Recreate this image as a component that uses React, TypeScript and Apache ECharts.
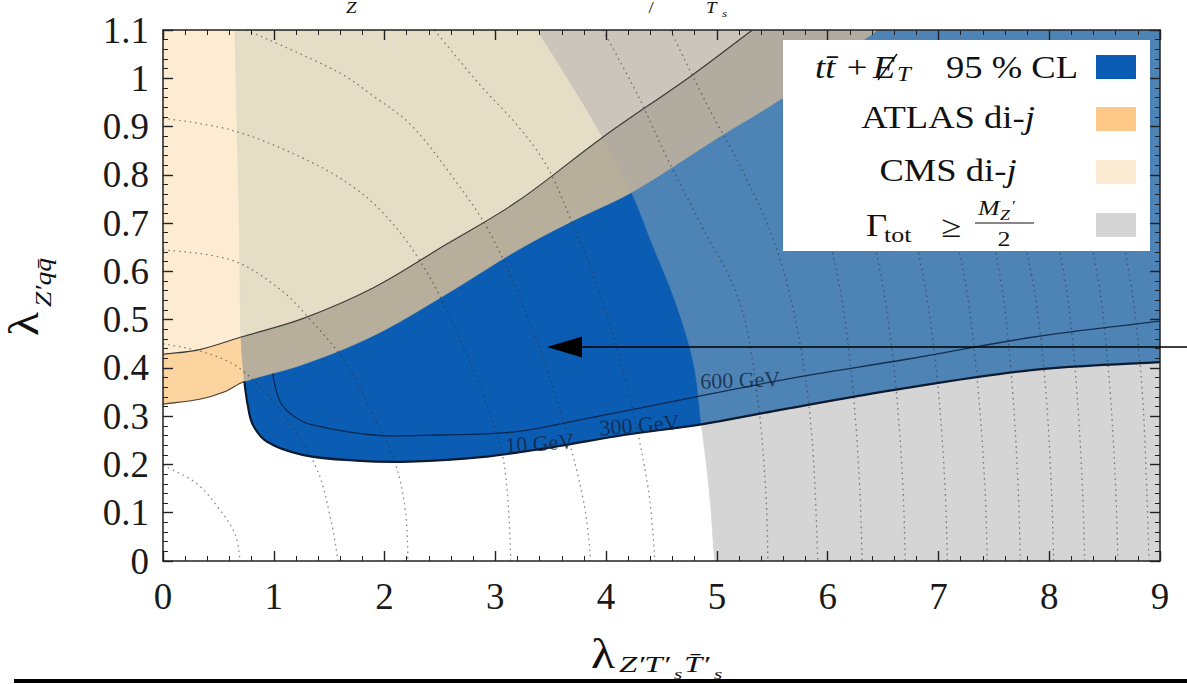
import React, { useEffect, useRef } from "react";
import * as echarts from "echarts";

// ---------- axes ----------
const X_MIN = 0;
const X_MAX = 9;
const X_STEP = 1;
const Y_MIN = 0;
const Y_MAX = 1.1;
const Y_STEP = 0.1;

// ---------- region boundaries (data coordinates) ----------
// lower edge of the di-jet band (ATLAS)
const ATLAS_EDGE = [
  [0, 0.325], [0.33, 0.335], [0.55, 0.35], [0.735, 0.372], [1.26, 0.407], [1.9, 0.467],
  [2.55, 0.552], [3.2, 0.644], [3.7, 0.705], [4.23, 0.764], [5.03, 0.88], [5.59, 0.959], [6.45, 1.1],
];
// upper edge of the di-jet band (CMS)
const CMS_EDGE = [
  [0, 0.428], [0.33, 0.438], [0.705, 0.464], [1.26, 0.502], [1.9, 0.566], [2.55, 0.655],
  [3.2, 0.745], [3.97, 0.878], [4.78, 1.007], [5.32, 1.1],
];
// left edge of the tt+MET exclusion
const MET_LEFT_EDGE = [[0.65, 1.1], [0.67, 0.9], [0.69, 0.7], [0.705, 0.464], [0.735, 0.372]];
// Gamma_tot >= M/2 boundary
const WIDTH_EDGE = [
  [3.38, 1.1], [3.68, 0.99], [3.97, 0.878], [4.23, 0.764], [4.42, 0.655], [4.62, 0.541],
  [4.79, 0.41], [4.86, 0.283], [4.93, 0.15], [4.98, 0],
];
// lower edge of the tt+MET exclusion (10 GeV)
const MET_10GEV = [
  [0.735, 0.372], [0.75, 0.345], [0.763, 0.325], [0.81, 0.283], [0.94, 0.247], [1.26, 0.22],
  [1.745, 0.208], [2.23, 0.206], [2.87, 0.215], [3.52, 0.236], [4.16, 0.261], [4.86, 0.283],
  [5.5, 0.31], [6.59, 0.354], [7.86, 0.396], [9, 0.412],
];
// 300 / 600 GeV contour
const MET_600GEV = [
  [0.99, 0.388], [1.02, 0.355], [1.07, 0.325], [1.18, 0.3], [1.33, 0.283], [1.9, 0.261],
  [2.5, 0.261], [3.19, 0.268], [3.84, 0.296], [4.81, 0.34], [5.68, 0.379], [6.77, 0.42],
  [7.86, 0.464], [9, 0.497],
];
// dotted iso-mass contours
const MASS_CONTOURS = [
  [[0, 0.198], [0.295, 0.162], [0.49, 0.113], [0.65, 0.056], [0.695, 0]],
  [[0, 0.45], [0.39, 0.431], [0.71, 0.396], [1.1, 0.3], [1.39, 0.19], [1.52, 0.08], [1.58, 0]],
  [[0, 0.644], [0.61, 0.624], [1.04, 0.566], [1.33, 0.5], [1.65, 0.41], [1.9, 0.3], [2.1, 0.2], [2.19, 0.1], [2.21, 0]],
  [[0, 0.917], [0.61, 0.893], [1.26, 0.835], [1.74, 0.771], [2.07, 0.7], [2.39, 0.595], [2.7, 0.45], [2.93, 0.32], [3.08, 0.2], [3.14, 0]],
  [[0.75, 1.1], [1.58, 1.013], [1.9, 0.963], [2.23, 0.905], [2.6, 0.8], [2.95, 0.68], [3.3, 0.5], [3.6, 0.3], [3.8, 0.12], [3.86, 0]],
  [[2.45, 1.1], [2.87, 0.984], [3.19, 0.905], [3.46, 0.82], [3.68, 0.708], [3.95, 0.55], [4.2, 0.35], [4.38, 0.15], [4.44, 0]],
  [[3.97, 1.1], [4.29, 0.963], [4.55, 0.835], [4.85, 0.7], [5.2, 0.54], [5.36, 0.35], [5.44, 0.15], [5.46, 0]],
  [[4.58, 1.1], [4.9, 0.95], [5.25, 0.8], [5.55, 0.64], [5.75, 0.45], [5.86, 0.25], [5.91, 0]],
  [[6.02, 0.66], [6.13, 0.54], [6.23, 0.35], [6.29, 0.15], [6.31, 0]],
  [[6.42, 0.66], [6.52, 0.54], [6.62, 0.35], [6.68, 0.15], [6.7, 0]],
  [[6.8, 0.66], [6.9, 0.54], [7.0, 0.35], [7.06, 0.15], [7.08, 0]],
  [[7.17, 0.66], [7.27, 0.54], [7.36, 0.35], [7.42, 0.15], [7.44, 0]],
  [[7.5, 0.66], [7.59, 0.54], [7.67, 0.35], [7.72, 0.15], [7.74, 0]],
  [[7.78, 0.66], [7.88, 0.54], [7.97, 0.35], [8.02, 0.15], [8.04, 0]],
  [[8.08, 0.66], [8.17, 0.54], [8.25, 0.35], [8.3, 0.15], [8.32, 0]],
  [[8.38, 0.66], [8.47, 0.54], [8.55, 0.35], [8.6, 0.15], [8.62, 0]],
  [[8.67, 0.66], [8.76, 0.54], [8.84, 0.35], [8.88, 0.15], [8.9, 0]],
];
const CONTOUR_LABELS = ["600 GeV", "300 GeV", "10 GeV"];
const CONTOUR_LABEL_POS = [[5.21, 0.375], [4.3, 0.282], [3.4, 0.244]];
const CONTOUR_LABEL_ROT = [2, 4.5, 4];

const LEGEND_COLORS = ["#0b5cb5", "#fdc888", "#fcebd3", "#d5d5d5"];
const SERIF = "Liberation Serif";
const SM = 0.36;
const PAD = 0.6;

function idxX(arr: number[][], x: number) {
  return arr.findIndex((p) => p[0] === x);
}
const up = (p: number[]) => [p[0], Y_MAX + PAD];
const down = (p: number[]) => [p[0], Y_MIN - PAD];
const right = (p: number[]) => [X_MAX + PAD, p[1]];
const left = (p: number[]) => [X_MIN - PAD, p[1]];

// smooth cubic segments through pixel points P from index a to index b (either direction)
function segs(P: number[][], a: number, b: number): string {
  const n = P.length;
  const st = b >= a ? 1 : -1;
  const g = (i: number) => P[Math.max(0, Math.min(n - 1, i))];
  const dist = (p: number[], q: number[]) => Math.hypot(p[0] - q[0], p[1] - q[1]);
  let s = "";
  for (let i = a; i !== b; i += st) {
    const p0 = g(i - st), p1 = g(i), p2 = g(i + st), p3 = g(i + 2 * st);
    const d01 = dist(p0, p1), d12 = dist(p1, p2), d23 = dist(p2, p3);
    const k1 = d01 + d12 > 0 ? (SM * d12) / (d01 + d12) : 0;
    const k2 = d12 + d23 > 0 ? (SM * d12) / (d12 + d23) : 0;
    const c1 = [p1[0] + (p2[0] - p0[0]) * k1, p1[1] + (p2[1] - p0[1]) * k1];
    const c2 = [p2[0] - (p3[0] - p1[0]) * k2, p2[1] - (p3[1] - p1[1]) * k2];
    s += `C${c1[0].toFixed(2)},${c1[1].toFixed(2)} ${c2[0].toFixed(2)},${c2[1].toFixed(2)} ${p2[0].toFixed(2)},${p2[1].toFixed(2)}`;
  }
  return s;
}

export default function App() {
  const ref = useRef<HTMLDivElement>(null);

  useEffect(() => {
    if (!ref.current) return;
    const chart = echarts.init(ref.current, undefined, { renderer: "svg" });

    const BLUE_EDGE = [...MET_LEFT_EDGE, ...MET_10GEV.slice(1)];
    const CURVES: Record<string, number[][]> = {
      A: ATLAS_EDGE, C: CMS_EDGE, B: BLUE_EDGE, W: WIDTH_EDGE, M: MET_600GEV,
    };
    const nA = ATLAS_EDGE.length, nC = CMS_EDGE.length, nB = BLUE_EDGE.length, nW = WIDTH_EDGE.length;
    const iLV = idxX(ATLAS_EDGE, 0.735);
    const iLA = idxX(ATLAS_EDGE, 4.23);
    const iUV = idxX(CMS_EDGE, 0.705);
    const iUA = idxX(CMS_EDGE, 3.97);
    const iAU = idxX(WIDTH_EDGE, 3.97);
    const iAL = idxX(WIDTH_EDGE, 4.23);
    const iAB = idxX(WIDTH_EDGE, 4.86);
    const iBVu = idxX(BLUE_EDGE, 0.705);
    const iBVl = idxX(BLUE_EDGE, 0.735);
    const iBAB = idxX(BLUE_EDGE, 4.86);

    const A0 = ATLAS_EDGE[0], C0 = CMS_EDGE[0];
    const Aend = ATLAS_EDGE[nA - 1], Cend = CMS_EDGE[nC - 1];
    const W0 = WIDTH_EDGE[0], Wend = WIDTH_EDGE[nW - 1];
    const V0 = BLUE_EDGE[0], Bend = BLUE_EDGE[nB - 1];
    const CORNER_TR = [X_MAX + PAD, Y_MAX + PAD];
    const CORNER_BR = [X_MAX + PAD, Y_MIN - PAD];
    const CORNER_TL = [X_MIN - PAD, Y_MAX + PAD];

    type Piece = any[];
    const regions: [Piece[], string][] = [
      [[["p", up(W0)], ["c", "W", 0, nW - 1], ["p", down(Wend)], ["p", CORNER_BR], ["p", CORNER_TR]], "#d5d5d5"],
      [[["p", up(V0)], ["c", "B", 0, nB - 1], ["p", right(Bend)], ["p", CORNER_TR]], "#0b5db3"],
      [[["p", up(W0)], ["c", "W", 0, iAB], ["c", "B", iBAB, nB - 1], ["p", right(Bend)], ["p", CORNER_TR]], "#4e83b5"],
      [[["p", left(A0)], ["c", "A", 0, iLV], ["c", "B", iBVl, iBVu], ["c", "C", iUV, 0], ["p", left(C0)]], "#fbd4a0"],
      [[["c", "A", iLV, iLA], ["c", "W", iAL, iAU], ["c", "C", iUA, iUV], ["c", "B", iBVu, iBVl]], "#b7ae9b"],
      [[["c", "A", iLA, nA - 1], ["p", up(Aend)], ["p", up(Cend)], ["c", "C", nC - 1, iUA], ["c", "W", iAU, iAL]], "#b1aba0"],
      [[["p", left(C0)], ["c", "C", 0, iUV], ["c", "B", iBVu, 0], ["p", up(V0)], ["p", CORNER_TL]], "#fdebd2"],
      [[["c", "C", iUV, iUA], ["c", "W", iAU, 0], ["p", up(W0)], ["p", up(V0)], ["c", "B", 0, iBVu]], "#e6ddc7"],
      [[["c", "C", iUA, nC - 1], ["p", up(Cend)], ["p", up(W0)], ["c", "W", 0, iAU]], "#cbc5bc"],
    ];

    const buildPath = (pieces: Piece[], api: any, close: boolean) => {
      const px: Record<string, number[][]> = {};
      for (const k of Object.keys(CURVES)) px[k] = CURVES[k].map((p) => api.coord(p));
      let d = "";
      const add = (p: number[]) => {
        d += `${d ? "L" : "M"}${p[0].toFixed(2)},${p[1].toFixed(2)}`;
      };
      for (const pc of pieces) {
        if (pc[0] === "p") add(api.coord(pc[1]));
        else {
          const P = px[pc[1]];
          add(P[pc[2]]);
          d += segs(P, pc[2], pc[3]);
        }
      }
      return close ? d + "Z" : d;
    };

    const pathSeries = (pieces: Piece[], style: any, z: number, close: boolean) => ({
      type: "custom",
      coordinateSystem: "cartesian2d",
      silent: true,
      clip: true,
      z,
      data: [[X_MIN, Y_MIN]],
      renderItem: (_p: any, api: any) => ({
        type: "path",
        shape: { pathData: buildPath(pieces, api, close) },
        style,
      }),
    });

    const regionSeries = regions.map(([pieces, color]) =>
      pathSeries(pieces, { fill: color, stroke: color, lineWidth: 0.8 }, 1, true)
    );

    const contourSeries = MASS_CONTOURS.map((c) => ({
      type: "line",
      data: c,
      showSymbol: false,
      smooth: 0.35,
      silent: true,
      z: 3,
      lineStyle: { color: "rgba(45,45,45,0.55)", width: 1.3, type: [1.6, 3.8] },
    }));

    const lineSeries: any[] = [
      pathSeries([["c", "C", 0, nC - 1]], { fill: "none", stroke: "#3b3a36", lineWidth: 1.2 }, 4, false),
      pathSeries([["p", left(A0)], ["c", "A", 0, iLV]], { fill: "none", stroke: "#4a4030", lineWidth: 1.1 }, 4, false),
      pathSeries([["c", "B", iBVl, nB - 1]], { fill: "none", stroke: "#0d1b30", lineWidth: 2.2 }, 4, false),
      pathSeries([["c", "M", 0, MET_600GEV.length - 1]], { fill: "none", stroke: "rgba(8,26,56,0.8)", lineWidth: 1.3 }, 4, false),
      {
        type: "scatter",
        data: CONTOUR_LABEL_POS.map((p, i) => ({
          value: p,
          name: CONTOUR_LABELS[i],
          label: { rotate: CONTOUR_LABEL_ROT[i] },
        })),
        symbolSize: 1,
        itemStyle: { color: "rgba(0,0,0,0)" },
        silent: true,
        z: 5,
        label: {
          show: true,
          position: "inside",
          formatter: (p: any) => p.name,
          fontFamily: SERIF,
          fontSize: 22,
          color: "#12243f",
        },
      },
    ];

    const axisCommon = {
      type: "value",
      z: 10,
      axisLine: { show: true, onZero: false, lineStyle: { color: "#222", width: 1.5 } },
      axisTick: { show: true, inside: true, length: 10, lineStyle: { color: "#222", width: 1.4 } },
      minorTick: { show: true, splitNumber: 5, length: 5, lineStyle: { color: "#222", width: 1 } },
      splitLine: { show: false },
    };
    const labelStyle = { fontFamily: SERIF, fontSize: 37, color: "#1a1a1a" };

    const txt = (text: string, x: number, y: number, size: number, opts: any = {}) => ({
      type: "text",
      x,
      y,
      scaleX: opts.scaleX ?? 1.18,
      z: opts.z ?? 55,
      silent: true,
      style: {
        text,
        fontFamily: SERIF,
        fontSize: size,
        fontStyle: opts.italic ? "italic" : "normal",
        fill: opts.color ?? "#111",
        align: opts.align ?? "left",
        textAlign: opts.align ?? "left",
        verticalAlign: "middle",
        textVerticalAlign: "middle",
        rich: opts.rich,
      },
    });

    const swatchY = [55, 107, 160, 213];
    const richRow = {
      r: { fontFamily: SERIF, fontSize: 31, fill: "#111" },
      i: { fontFamily: SERIF, fontSize: 31, fontStyle: "italic", fill: "#111" },
    };
    const legendGraphics: any[] = [
      { type: "rect", z: 50, silent: true, shape: { x: 783, y: 40, width: 367, height: 211 }, style: { fill: "#ffffff" } },
      ...LEGEND_COLORS.map((c, i) => ({
        type: "rect", z: 52, silent: true,
        shape: { x: 1096, y: swatchY[i], width: 40, height: 24 },
        style: { fill: c },
      })),
      // row 1: tt + missing E_T 95 % CL
      txt("tt\u0304", 815, 67, 31, { italic: true }),
      txt("+", 857, 67, 31, { align: "center" }),
      txt("E", 873, 67, 31, { italic: true }),
      { type: "line", z: 56, silent: true, shape: { x1: 878, y1: 80, x2: 897, y2: 54 }, style: { stroke: "#111", lineWidth: 1.4 } },
      txt("T", 897, 74, 21, { italic: true }),
      txt("95 % CL", 946, 67, 31),
      // rows 2 and 3
      txt("{r|ATLAS di-}{i|j}", 948, 117, 31, { align: "center", rich: richRow }),
      txt("{r|CMS di-}{i|j}", 948, 170, 31, { align: "center", rich: richRow }),
      // row 4: Gamma_tot >= M_Z'/2
      txt("\u0393", 866, 225, 31),
      txt("tot", 884, 235, 22),
      txt("\u2265", 951, 226, 31, { align: "center" }),
      txt("M", 978, 208, 22, { italic: true }),
      txt("Z", 1000, 215, 15, { italic: true }),
      txt("\u2032", 1012, 206, 15),
      { type: "line", z: 55, silent: true, shape: { x1: 975, y1: 223, x2: 1034, y2: 223 }, style: { stroke: "#111", lineWidth: 1.2 } },
      txt("2", 1004, 239, 22, { align: "center" }),
    ];

    const titleGraphics: any[] = [
      // x-axis title
      txt("\u03bb", 603, 654, 42, { align: "center", z: 20 }),
      txt("Z\u2032T\u2032", 619, 664, 23, { italic: true, z: 20, scaleX: 1.42 }),
      txt("s", 674, 674, 15, { italic: true, z: 20, scaleX: 1.42 }),
      txt("T\u0304\u2032", 684, 664, 23, { italic: true, z: 20, scaleX: 1.42 }),
      txt("s", 714, 674, 15, { italic: true, z: 20, scaleX: 1.42 }),
      // y-axis title (rotated)
      {
        type: "group",
        x: 0,
        y: 0,
        rotation: Math.PI / 2,
        silent: true,
        children: [
          txt("\u03bb", -324, 24, 42, { align: "center", z: 20 }),
          txt("Z\u2032qq\u0304", -307, 43, 23, { italic: true, z: 20, scaleX: 1.2 }),
        ],
      },
      // fragments of the cropped title at the top
      txt("Z", 346, 8, 16, { italic: true, z: 20 }),
      txt("/", 651, 8, 16, { align: "center", z: 20 }),
      txt("T", 706, 8, 16, { italic: true, z: 20 }),
      txt("s", 722, 13, 11, { italic: true, z: 20 }),
      // arrow
      { type: "line", z: 60, silent: true, shape: { x1: 578, y1: 347, x2: 1187, y2: 347 }, style: { stroke: "#000", lineWidth: 1.5 } },
      { type: "polygon", z: 60, silent: true, shape: { points: [[547, 347], [582, 336.5], [582, 357.5]] }, style: { fill: "#000" } },
      // bottom rule
      { type: "rect", z: 60, silent: true, shape: { x: 14, y: 679, width: 1173, height: 4 }, style: { fill: "#000" } },
    ];

    chart.setOption({
      animation: false,
      backgroundColor: "#ffffff",
      grid: { left: 163, right: 27, top: 30, bottom: 123, containLabel: false },
      xAxis: [
        { ...axisCommon, position: "bottom", min: X_MIN, max: X_MAX, interval: X_STEP, axisLabel: { ...labelStyle, margin: 17 } },
        { ...axisCommon, position: "top", min: X_MIN, max: X_MAX, interval: X_STEP, axisLabel: { show: false } },
      ],
      yAxis: [
        { ...axisCommon, position: "left", min: Y_MIN, max: Y_MAX, interval: Y_STEP, axisLabel: { ...labelStyle, margin: 14 } },
        { ...axisCommon, position: "right", min: Y_MIN, max: Y_MAX, interval: Y_STEP, axisLabel: { show: false } },
      ],
      series: [...regionSeries, ...contourSeries, ...lineSeries],
      graphic: { elements: [...legendGraphics, ...titleGraphics] },
    } as any);

    return () => chart.dispose();
  }, []);

  return (
    <div
      ref={ref}
      style={{ position: "absolute", left: 0, top: 0, width: 1187, height: 684, background: "#fff" }}
    />
  );
}
